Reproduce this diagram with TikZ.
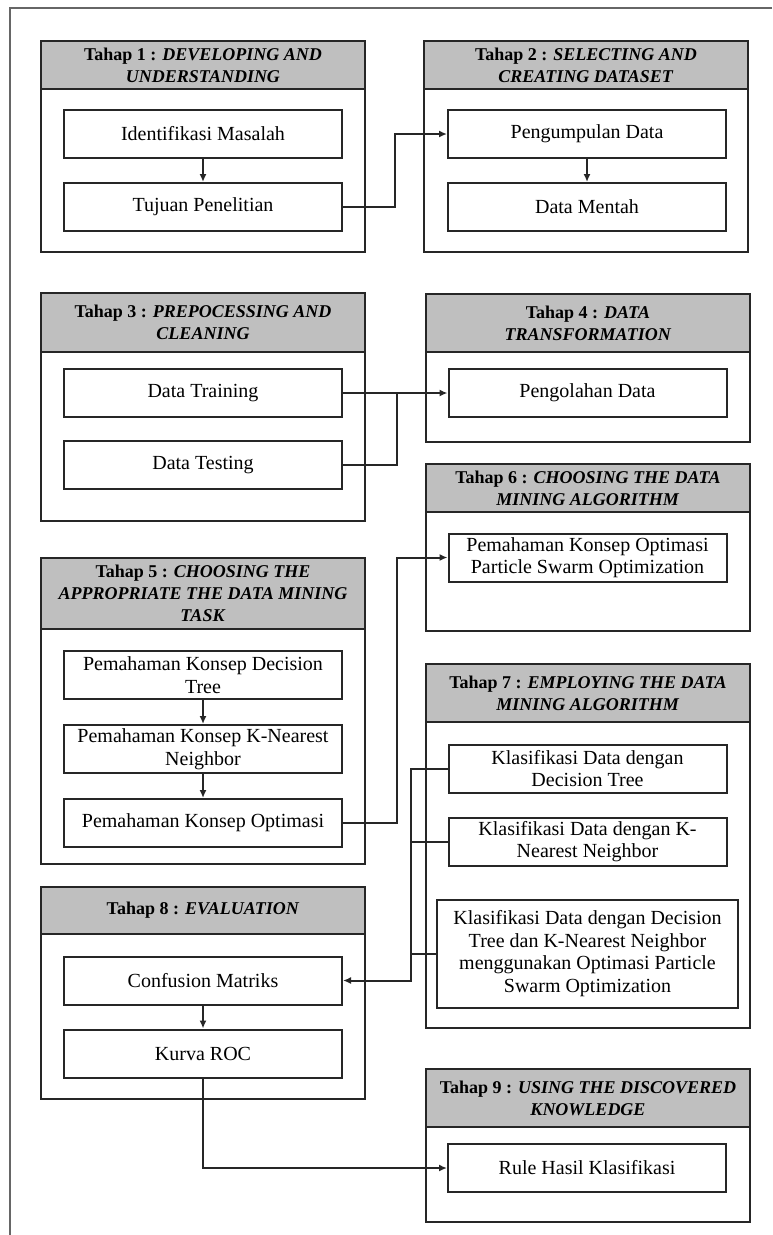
\documentclass[tikz,border=0pt]{standalone}
\usepackage{fontspec}
\setmainfont{Liberation Serif}
\usetikzlibrary{arrows.meta, positioning}
\tikzset{stage/.style={rectangle,draw=black!85,line width=2pt,minimum width=324pt,inner sep=0pt},stagehead/.style={rectangle,draw=black!85,line width=2pt,fill=black!25,minimum width=324pt,minimum height=48pt,align=center,inner sep=1pt,font=\fontsize{18}{22}\selectfont\bfseries},stepbox/.style={rectangle,draw=black!85,line width=2pt,minimum width=278pt,minimum height=48pt,align=center,inner sep=2pt,font=\fontsize{20}{22.5}\selectfont},line/.style={draw=black!85,line width=2pt,-{Latex[length=8pt,width=7pt]}},wire/.style={draw=black!85,line width=2pt}}

\begin{document}
\begin{tikzpicture}[x=1pt,y=-1pt,node distance=23pt]
\useasboundingbox (0,0) rectangle (772,1235);
\draw[wire,black!60] (772,8) -- (10,8) -- (10,1235);

\node[stage, minimum height=211pt, anchor=north west] (s1) at (40,40) {};
\node[stagehead, anchor=north west] (h1) at (s1.north west) {Tahap 1 : \textit{DEVELOPING AND}\\\textit{UNDERSTANDING}};
\node[stepbox] (idm) at (203,134) {Identifikasi Masalah};
\node[stepbox, below=of idm] (tujuan) {Tujuan Penelitian};

\node[stage, minimum height=211pt, anchor=north west] (s2) at (423,40) {};
\node[stagehead, anchor=north west] (h2) at (s2.north west) {Tahap 2 : \textit{SELECTING AND}\\\textit{CREATING DATASET}};
\node[stepbox] (kumpul) at (587,134) {Pengumpulan Data};
\node[stepbox, below=of kumpul] (mentah) {Data Mentah};

\node[stage, minimum height=228pt, anchor=north west] (s3) at (40,292) {};
\node[stagehead, anchor=north west, minimum height=59pt] (h3) at (s3.north west) {Tahap 3 : \textit{PREPOCESSING AND}\\\textit{CLEANING}};
\node[stepbox] (training) at (203,393) {Data Training};
\node[stepbox, below=22pt of training] (testing) {Data Testing};

\node[stage, minimum height=148pt, anchor=north west] (s4) at (425,293) {};
\node[stagehead, anchor=north west, minimum height=58pt] (h4) at (s4.north west) {Tahap 4 : \textit{DATA}\\\textit{TRANSFORMATION}};
\node[stepbox] (olah) at (587.5,393) {Pengolahan Data};

\node[stage, minimum height=167pt, anchor=north west] (s6) at (425,463) {};
\node[stagehead, anchor=north west] (h6) at (s6.north west) {Tahap 6 : \textit{CHOOSING THE DATA}\\\textit{MINING ALGORITHM}};
\node[stepbox] (pso) at (587.5,557.5) {Pemahaman Konsep Optimasi\\Particle Swarm Optimization};

\node[stage, minimum height=306pt, anchor=north west] (s5) at (40,557) {};
\node[stagehead, anchor=north west, minimum height=71pt] (h5) at (s5.north west) {Tahap 5 : \textit{CHOOSING THE}\\\textit{APPROPRIATE THE DATA MINING}\\\textit{TASK}};
\node[stepbox] (dt) at (203,675) {Pemahaman Konsep Decision\\Tree};
\node[stepbox, below=24pt of dt] (knn) {Pemahaman Konsep K-Nearest\\Neighbor};
\node[stepbox, below=24pt of knn] (opt) {Pemahaman Konsep Optimasi};

\node[stage, minimum height=364pt, anchor=north west] (s7) at (425,663) {};
\node[stagehead, anchor=north west, minimum height=58pt] (h7) at (s7.north west) {Tahap 7 : \textit{EMPLOYING THE DATA}\\\textit{MINING ALGORITHM}};
\node[stepbox] (kdt) at (587.5,768.5) {Klasifikasi Data dengan\\Decision Tree};
\node[stepbox, below=of kdt] (kknn) {Klasifikasi Data dengan K-\\Nearest Neighbor};
\node[stepbox, below=32pt of kknn, minimum width=301pt, minimum height=108pt] (kall) {Klasifikasi Data dengan Decision\\Tree dan K-Nearest Neighbor\\menggunakan Optimasi Particle\\Swarm Optimization};

\node[stage, minimum height=212pt, anchor=north west] (s8) at (40,886) {};
\node[stagehead, anchor=north west, minimum height=47pt] (h8) at (s8.north west) {Tahap 8 : \textit{EVALUATION}};
\node[stepbox] (cm) at (203,980.5) {Confusion Matriks};
\node[stepbox, below=of cm] (roc) {Kurva ROC};

\node[stage, minimum height=153pt, anchor=north west] (s9) at (425,1068) {};
\node[stagehead, anchor=north west, minimum height=58pt] (h9) at (s9.north west) {Tahap 9 : \textit{USING THE DISCOVERED}\\\textit{KNOWLEDGE}};
\node[stepbox] (rule) at (587,1168) {Rule Hasil Klasifikasi};

\draw[line] (idm) -- (tujuan);
\draw[line] (tujuan.east) -- ++(52,0) |- (kumpul.west);
\draw[line] (kumpul) -- (mentah);
\draw[line] (training.east) -- (olah.west);
\draw[wire] (testing.east) -- ++(54,0) |- (training.east);
\draw[line] (dt) -- (knn);
\draw[line] (knn) -- (opt);
\draw[line] (opt.east) -- ++(54,0) |- (pso.west);
\draw[line] (kdt.west) -- ++(-37,0) |- (cm.east);
\draw[wire] (kknn.west) -- ++(-37,0);
\draw[wire] (kall.west) -- ++(-25,0);
\draw[line] (cm) -- (roc);
\draw[line] (roc.south) |- (rule.west);
\end{tikzpicture}
\end{document}
